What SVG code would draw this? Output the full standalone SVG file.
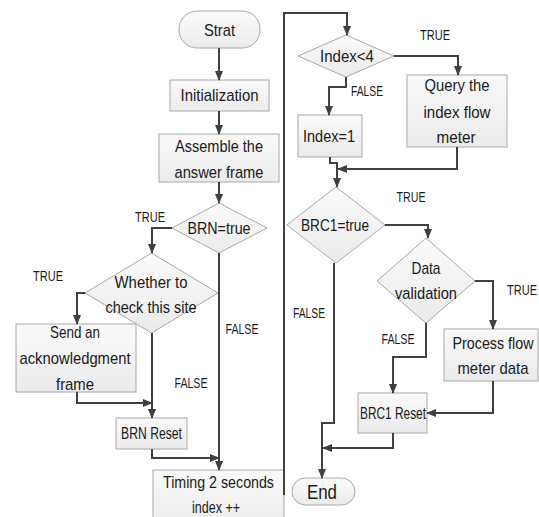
<svg xmlns="http://www.w3.org/2000/svg" width="539" height="517" viewBox="0 0 539 517">
<defs>
<linearGradient id="g" x1="0" y1="0" x2="0" y2="1">
<stop offset="0" stop-color="#fafafa"/>
<stop offset="1" stop-color="#ebebeb"/>
</linearGradient>
<marker id="a" markerUnits="userSpaceOnUse" markerWidth="10" markerHeight="10" viewBox="0 0 10 10" refX="9" refY="5" orient="auto">
<path d="M0,1 L10,5 L0,9 Z" fill="#404040"/>
</marker>
</defs>
<style>
.n{fill:url(#g);stroke:#a8a8a8;stroke-width:1}
.t{font-family:"Liberation Sans",Arial,sans-serif;font-size:17px;fill:#1a1a1a;text-anchor:middle}
.l{font-family:"Liberation Sans",Arial,sans-serif;font-size:15px;fill:#1a1a1a;text-anchor:middle}
.c path{fill:none;stroke:#404040;stroke-width:2;marker-end:url(#a)}
.c path.p{marker-end:none}
</style>
<rect width="539" height="517" fill="#fff"/>
<g id="strat"><rect class="n" x="179" y="11" width="81" height="37" rx="18"/><text class="t" x="219.5" y="36" textLength="31" lengthAdjust="spacingAndGlyphs">Strat</text></g>
<g id="init"><rect class="n" x="170" y="80" width="99" height="31"/><text class="t" x="219.5" y="101" textLength="78" lengthAdjust="spacingAndGlyphs">Initialization</text></g>
<g id="assemble"><rect class="n" x="159" y="134" width="120" height="48"/><text class="t" x="219" y="152" textLength="88" lengthAdjust="spacingAndGlyphs">Assemble the</text><text class="t" x="219" y="178" textLength="89" lengthAdjust="spacingAndGlyphs">answer frame</text></g>
<g id="brn"><polygon class="n" points="219,203 267,228 219,253 172,228"/><text class="t" x="219" y="234" textLength="63" lengthAdjust="spacingAndGlyphs">BRN=true</text></g>
<g id="whether"><polygon class="n" points="151.5,253 218,293 151.5,333 85,293"/><text class="t" x="151" y="288" textLength="73" lengthAdjust="spacingAndGlyphs">Whether to</text><text class="t" x="151" y="313" textLength="91" lengthAdjust="spacingAndGlyphs">check this site</text></g>
<g id="send"><rect class="n" x="16" y="324" width="120" height="68"/><text class="t" x="75" y="338" textLength="50" lengthAdjust="spacingAndGlyphs">Send an</text><text class="t" x="75" y="364" textLength="111" lengthAdjust="spacingAndGlyphs">acknowledgment</text><text class="t" x="75" y="390" textLength="38" lengthAdjust="spacingAndGlyphs">frame</text></g>
<g id="brnreset"><rect class="n" x="116" y="418" width="71" height="31"/><text class="t" x="151.5" y="439" textLength="61" lengthAdjust="spacingAndGlyphs">BRN Reset</text></g>
<g id="timing"><rect class="n" x="153" y="470" width="131" height="60"/><text class="t" x="218.5" y="488" textLength="111" lengthAdjust="spacingAndGlyphs">Timing 2 seconds</text><text class="t" x="216" y="513" textLength="48" lengthAdjust="spacingAndGlyphs">index ++</text></g>
<g id="index4"><polygon class="n" points="346,35 394,56 346,77 298,56"/><text class="t" x="347" y="62" textLength="54" lengthAdjust="spacingAndGlyphs">Index&lt;4</text></g>
<g id="query"><rect class="n" x="407" y="75" width="100" height="72"/><text class="t" x="457" y="91" textLength="65" lengthAdjust="spacingAndGlyphs">Query the</text><text class="t" x="457" y="118" textLength="67" lengthAdjust="spacingAndGlyphs">index flow</text><text class="t" x="456" y="143" textLength="39" lengthAdjust="spacingAndGlyphs">meter</text></g>
<g id="index1"><rect class="n" x="298" y="115" width="64" height="42"/><text class="t" x="329" y="142" textLength="52" lengthAdjust="spacingAndGlyphs">Index=1</text></g>
<g id="brc1"><polygon class="n" points="336,187 385,225 336,263 287,225"/><text class="t" x="335" y="231" textLength="68" lengthAdjust="spacingAndGlyphs">BRC1=true</text></g>
<g id="data"><polygon class="n" points="426,238 475,281 426,323 377,281"/><text class="t" x="426" y="274" textLength="29" lengthAdjust="spacingAndGlyphs">Data</text><text class="t" x="426" y="299" textLength="62" lengthAdjust="spacingAndGlyphs">validation</text></g>
<g id="process"><rect class="n" x="444" y="329" width="94" height="52"/><text class="t" x="493" y="349" textLength="81" lengthAdjust="spacingAndGlyphs">Process flow</text><text class="t" x="493" y="374" textLength="71" lengthAdjust="spacingAndGlyphs">meter data</text></g>
<g id="brc1reset"><rect class="n" x="358" y="393" width="69" height="40"/><text class="t" x="393" y="419" textLength="66" lengthAdjust="spacingAndGlyphs">BRC1 Reset</text></g>
<g id="end"><rect class="n" x="292" y="478" width="63" height="27" rx="13.5"/><text class="t" x="322" y="499" style="font-size:21px" textLength="30" lengthAdjust="spacingAndGlyphs">End</text></g>
<g class="c" id="connectors">
<path d="M219,48 V80"/>
<path d="M219,111 V134"/>
<path d="M219,182 V203"/>
<path d="M172,228 H152 V253"/>
<path d="M219,253 V470"/>
<path d="M85,293 H77 V324"/>
<path d="M152,333 V418"/>
<path d="M77,392 V403 H152"/>
<path d="M152,449 V458 H219"/>
<path d="M284,495 V13 H347 V35"/>
<path d="M394,56 H458 V75"/>
<path d="M346,77 V87 H329 V115"/>
<path class="p" d="M330,157 V163 H337 V170"/>
<path d="M337,168 V187"/>
<path d="M457,147 V169 H338"/>
<path d="M385,225 H428 V238"/>
<path d="M334,263 V423 H322 V478"/>
<path d="M475,281 H493 V329"/>
<path d="M426,323 V357 H393 V393"/>
<path d="M493,381 V413 H427"/>
<path d="M393,433 V448 H323"/>
</g>
<g id="labels">
<text class="l" x="150" y="222" textLength="30" lengthAdjust="spacingAndGlyphs">TRUE</text>
<text class="l" x="48" y="281" textLength="30" lengthAdjust="spacingAndGlyphs">TRUE</text>
<text class="l" x="242" y="334" textLength="33" lengthAdjust="spacingAndGlyphs">FALSE</text>
<text class="l" x="191" y="388" textLength="33" lengthAdjust="spacingAndGlyphs">FALSE</text>
<text class="l" x="435" y="40" textLength="30" lengthAdjust="spacingAndGlyphs">TRUE</text>
<text class="l" x="367" y="96" textLength="32" lengthAdjust="spacingAndGlyphs">FALSE</text>
<text class="l" x="411" y="202" textLength="29" lengthAdjust="spacingAndGlyphs">TRUE</text>
<text class="l" x="522" y="295" textLength="30" lengthAdjust="spacingAndGlyphs">TRUE</text>
<text class="l" x="398" y="344" textLength="33" lengthAdjust="spacingAndGlyphs">FALSE</text>
<text class="l" x="309" y="318" textLength="32" lengthAdjust="spacingAndGlyphs">FALSE</text>
</g>
</svg>
